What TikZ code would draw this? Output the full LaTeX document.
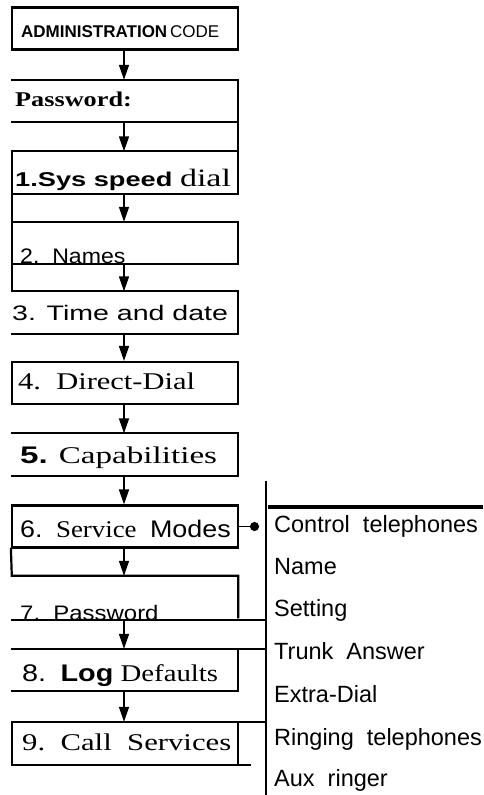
\documentclass[tikz,border=0pt]{standalone}
\usepackage{fontspec}
\usepackage{graphicx}
\usetikzlibrary{arrows.meta}
\newfontfamily\sansfam{Liberation Sans}
\newfontfamily\serffam{Liberation Serif}
\newcommand{\fsz}[1]{\fontsize{#1}{#1}\selectfont}
\newcommand{\hstretch}[2]{\scalebox{#1}[1]{#2}}

\begin{document}
\begin{tikzpicture}[x=1pt, y=-1pt,
    box/.style={minimum width=226pt, minimum height=42pt, inner sep=0pt},
    edge/.style={line width=2.2pt, line cap=rect},
    flow/.style={line width=1.6pt, -{Triangle[length=15pt, width=10pt]}},
    lbl/.style={anchor=base west, inner sep=0pt},
    item/.style={lbl, font=\sansfam\fsz{23.5}}]
  \useasboundingbox (0,0) rectangle (483,795);

  % menu boxes (only some of them are closed)
  \node[box, draw, edge] (admin) at (125,28.5) {};
  \node[box] (pwd) at (125,101) {};
  \node[box] (sys) at (125,172.5) {};
  \node[box] (names) at (125,243) {};
  \node[box] (time) at (125,312.5) {};
  \node[box, draw, edge] (direct) at (125,383) {};
  \node[box] (caps) at (125,454.5) {};
  \node[box, draw, edge] (modes) at (125,526.5) {};
  \node[box, minimum height=44pt] (pwd7) at (125,598) {};
  \node[box] (logd) at (125,670) {};
  \node[box, minimum height=43pt] (calls) at (125,743.5) {};

  % right hand rail and list
  \coordinate (railtop) at (266,482);
  \coordinate (railbot) at (266,795);
  \coordinate (listl) at (268,507);
  \coordinate (listr) at (483,507);
  \coordinate (modetip) at (259,526.5);

  \draw[edge] (pwd.north west) -- (pwd.north east) -- (sys.north east);
  \draw[edge] (pwd.south west) -- (pwd.south east);
  \draw[edge] (sys.south west) -- (sys.south east) -- (sys.north east)
    -- (sys.north west) -- (time.north west);
  \draw[edge] (names.north west) -- (names.north east) -- (names.south east)
    -- (names.south west);
  \draw[edge] (time.north west) -- (time.north east) -- (time.south east)
    -- (time.south west);
  \draw[edge] (caps.north west) -- (caps.north east) -- (caps.south east)
    -- (caps.south west);
  \draw[edge] (modes.south west) -- (pwd7.north west) -- (pwd7.north east)
    -- ([yshift=3pt]pwd7.south east);
  \draw[edge] (pwd7.south west) -- (pwd7.south west -| railtop);
  \draw[edge] (logd.north west -| railtop) -- (logd.north west);
  \draw[edge] (logd.north east) -- (logd.south east) -- (logd.south west);
  \draw[edge] (calls.north west -| railtop) -- (calls.north west)
    -- (calls.south west) -- ([xshift=12pt]calls.south east);
  \draw[edge] (calls.north east) -- (calls.south east);
  \draw[edge] (railtop) -- (railbot);
  \draw[line width=3.4pt] (listl) -- (listr);

  \foreach \a/\b in {admin/pwd, pwd/sys, sys/names, names/time, time/direct,
      direct/caps, caps/modes, modes/pwd7, pwd7/logd, logd/calls}
    \draw[flow] ([xshift=-1pt]\a.south) -- ([xshift=-1pt]\b.north);
  \draw[line width=1.8pt, -{Circle[length=9pt]}] (modes.east) -- (modetip);

  % box labels
  \node[lbl, font=\sansfam\fsz{17}] (tadmin) at (21,37)
    {\textbf{ADMINISTRATION}\,CODE};
  \node[lbl, font=\serffam\bfseries\fsz{21}] (tpwd) at (15,106)
    {\hstretch{1.25}{Password:}};
  \node[lbl, font=\sansfam\bfseries\fsz{20}] (tsys) at (15,186)
    {\hstretch{1.36}{1.Sys speed {\serffam\mdseries\fsz{25}dial}}};
  \node[lbl, font=\sansfam\fsz{21}] (tnames) at (20,263)
    {\hstretch{1.1}{2.\ \ Names}};
  \node[lbl, font=\sansfam\fsz{21}] (ttime) at (12,320)
    {\hstretch{1.36}{3. Time and date}};
  \node[lbl, font=\serffam\fsz{24}] (tdirect) at (18,389)
    {\hstretch{1.27}{4.\ \ Direct-Dial}};
  \node[lbl, font=\serffam\fsz{24}] (tcaps) at (20,463)
    {\hstretch{1.38}{{\sansfam\bfseries 5.} Capabilities}};
  \node[lbl, font=\serffam\fsz{24}] (tmodes) at (20,537)
    {\hstretch{1.12}{{\sansfam 6.}\ \ Service\ \ {\sansfam Modes}}};
  \node[lbl, font=\sansfam\fsz{21}] (tpwd7) at (20,620)
    {\hstretch{1.14}{7.\ \ Password}};
  \node[lbl, font=\serffam\fsz{24}] (tlogd) at (22,681)
    {\hstretch{1.2}{{\sansfam 8.}\ \ {\sansfam\bfseries Log} Defaults}};
  \node[lbl, font=\serffam\fsz{24}] (tcalls) at (22,750)
    {\hstretch{1.28}{9.\ \ Call\ \ Services}};

  % service mode items
  \node[item] (ctrl) at (274,532) {Control\ \ telephones};
  \node[item] (name) at (274,574) {Name};
  \node[item] (sett) at (274,616) {Setting};
  \node[item] (trunk) at (274,659) {Trunk\ \ Answer};
  \node[item] (extra) at (274,702) {Extra-Dial};
  \node[item] (ring) at (274,745) {Ringing\ \ telephones};
  \node[item] (aux) at (274,786) {Aux\ \ ringer};
\end{tikzpicture}
\end{document}
